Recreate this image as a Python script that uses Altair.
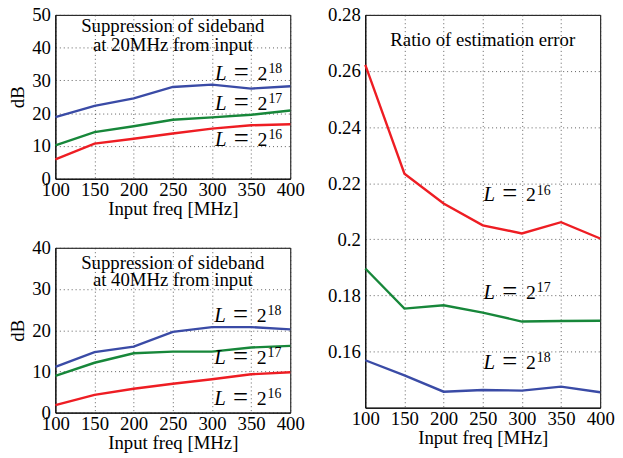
import altair as alt
import pandas as pd

freq = [100, 150, 200, 250, 300, 350, 400]
series_L = ["16", "17", "18"]

s20_L16 = [5.9, 10.7, 12.2, 13.8, 15.3, 16.3, 16.6]
s20_L17 = [10.2, 14.2, 16.0, 18.0, 18.7, 19.5, 20.8]
s20_L18 = [18.8, 22.2, 24.5, 28.0, 28.7, 27.5, 28.2]

s40_L16 = [1.8, 4.3, 5.8, 7.0, 8.1, 9.3, 9.8]
s40_L17 = [8.9, 12.1, 14.4, 14.8, 14.8, 15.8, 16.2]
s40_L18 = [11.1, 14.7, 16.0, 19.6, 20.75, 20.75, 20.2]

err_L16 = [0.2622, 0.2234, 0.2128, 0.2050, 0.2021, 0.2061, 0.2003]
err_L17 = [0.1896, 0.1753, 0.1765, 0.1739, 0.1707, 0.1709, 0.1710]
err_L18 = [0.1569, 0.1515, 0.1457, 0.1463, 0.1461, 0.1475, 0.1455]

# label anchor positions (data coords) for "L = 2^k"
lab20_x = [304, 304, 304]
lab20_y = [9.9, 21.0, 30.2]
lab40_x = [303, 303, 303]
lab40_y = [1.9, 11.9, 22.1]
laberr_x = [251, 251, 251]
laberr_y = [0.2135, 0.1787, 0.1537]

title20 = ["Suppression of sideband", "at 20MHz from input"]
title40 = ["Suppression of sideband", "at 40MHz from input"]
title_err = ["Ratio of estimation error"]

y20_ticks = [0, 10, 20, 30, 40, 50]
y40_ticks = [0, 10, 20, 30, 40]
yerr_ticks = [0.16, 0.18, 0.2, 0.22, 0.24, 0.26, 0.28]

colors = ["#EE1D23", "#17873A", "#3A4BA6"]
FONT = "Liberation Serif"


def long_df(a, b, c):
    rows = []
    for L, vals in zip(series_L, [a, b, c]):
        for f, v in zip(freq, vals):
            rows.append({"freq": f, "val": v, "L": L})
    return pd.DataFrame(rows)


def panel(df, ydom, yticks, w, h, titles, title_ys, lx, ly, ytitle, yfmt):
    xenc = alt.X("freq:Q", scale=alt.Scale(domain=[100, 400], nice=False),
                 axis=alt.Axis(values=freq, title="Input freq [MHz]", labelFlush=False,
                               labelOverlap=False, format="d", labelPadding=2,
                               titlePadding=0, titleFontSize=19))
    yaxis = alt.Axis(values=yticks, labelOverlap=False, labelFlush=False, format=yfmt,
                     title=ytitle if ytitle else None)
    yenc = alt.Y("val:Q", scale=alt.Scale(domain=ydom, nice=False, zero=False), axis=yaxis)
    lines = alt.Chart(df).mark_line(strokeWidth=2.4).encode(
        x=xenc, y=yenc,
        color=alt.Color("L:N", scale=alt.Scale(domain=series_L, range=colors), legend=None),
    )
    ldf = pd.DataFrame({"freq": lx, "val": ly, "sup": series_L})
    base = alt.Chart(ldf).encode(x=xenc, y=yenc)
    tL = base.mark_text(font=FONT, fontSize=21, fontStyle="italic", align="left",
                        baseline="alphabetic").encode(text=alt.value("L"))
    tEq = base.mark_text(font=FONT, fontSize=27, align="left", baseline="alphabetic",
                         dx=19, dy=1).encode(text=alt.value("="))
    t2 = base.mark_text(font=FONT, fontSize=20, align="left", baseline="alphabetic",
                        dx=43).encode(text=alt.value("2"))
    tS = base.mark_text(font=FONT, fontSize=14, align="left", baseline="alphabetic",
                        dx=54, dy=-7).encode(text="sup:N")
    layers = [lines, tL, tEq, t2, tS]
    for t, py in zip(titles, title_ys):
        layers.append(
            alt.Chart(pd.DataFrame({"t": [t]})).mark_text(
                font=FONT, fontSize=19, align="center", baseline="alphabetic"
            ).encode(x=alt.value(w / 2), y=alt.value(py), text="t:N")
        )
    return alt.layer(*layers).properties(width=w, height=h)


p20 = panel(long_df(s20_L16, s20_L17, s20_L18), [0, 50], y20_ticks, 238, 166,
            title20, [17, 37], lab20_x, lab20_y, "dB", "d")
p40 = panel(long_df(s40_L16, s40_L17, s40_L18), [0, 40], y40_ticks, 238, 167,
            title40, [21, 39], lab40_x, lab40_y, "dB", "d")
perr = panel(long_df(err_L16, err_L17, err_L18), [0.14, 0.28], yerr_ticks, 238, 398,
             title_err, [32], laberr_x, laberr_y, None, "~g")

left = alt.vconcat(p20, p40, spacing=19)
chart = alt.hconcat(left, perr, spacing=22).properties(
    padding={"left": 0, "top": -6, "right": 0, "bottom": -1}
).configure_view(
    stroke="black", strokeWidth=1
).configure_axis(
    labelFont=FONT, titleFont=FONT, labelFontSize=19, titleFontSize=19,
    titleFontWeight="normal", labelColor="black", titleColor="black",
    ticks=False, domainColor="black", domainWidth=1,
    grid=True, gridDash=[1, 3], gridColor="#333", gridWidth=1, gridOpacity=0.8,
    labelPadding=5, titlePadding=2,
).configure_axisY(titlePadding=4)

chart.save("out.html", embed_options={"renderer": "svg", "actions": False})
